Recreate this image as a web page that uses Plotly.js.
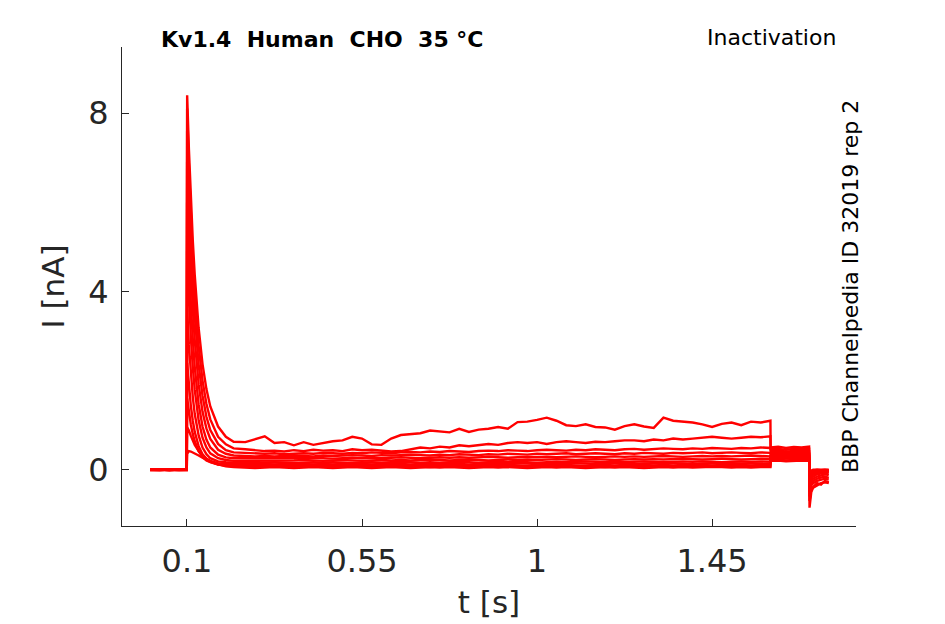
<!DOCTYPE html>
<html>
<head>
<meta charset="utf-8">
<script src="https://cdn.plot.ly/plotly-3.0.1.min.js"></script>
<style>html,body{margin:0;padding:0;background:#fff;}#chart{width:945px;height:624px;}</style>
</head>
<body>
<div id="chart"></div>
<script>
// time [s]
const t = [0.005, 0.03, 0.055, 0.08, 0.0995,
  0.1005, 0.105, 0.11, 0.115, 0.12, 0.13, 0.14, 0.15, 0.16, 0.18, 0.2, 0.22,
  0.25, 0.275, 0.3, 0.325, 0.35, 0.375, 0.4, 0.425, 0.45, 0.475,
  0.5, 0.525, 0.55, 0.575, 0.6, 0.625, 0.65, 0.675, 0.7, 0.725,
  0.75, 0.775, 0.8, 0.825, 0.85, 0.875, 0.9, 0.925, 0.95, 0.975,
  1.0, 1.025, 1.05, 1.075, 1.1, 1.125, 1.15, 1.175, 1.2, 1.225,
  1.25, 1.275, 1.3, 1.325, 1.35, 1.375, 1.4, 1.425, 1.45, 1.475,
  1.5, 1.525, 1.55, 1.575, 1.6,
  1.6005, 1.62, 1.64, 1.66, 1.68, 1.6995,
  1.7005, 1.705, 1.71, 1.72, 1.73, 1.74, 1.75];

// currents [nA]
const sweep1 = [0, 0.01, -0.01, 0.01, 0,
  8.4, 7.19, 6.07, 5.14, 4.37, 3.18, 2.37, 1.81, 1.42, 0.97, 0.74, 0.63,
  0.62, 0.68, 0.75, 0.6, 0.62, 0.55, 0.62, 0.56, 0.6, 0.64,
  0.66, 0.74, 0.7, 0.57, 0.56, 0.7, 0.78, 0.8, 0.82, 0.88,
  0.86, 0.84, 0.92, 0.85, 0.9, 0.92, 0.96, 0.92, 1.07, 1.08,
  1.12, 1.17, 1.1, 1.0, 0.98, 1.02, 0.96, 0.95, 0.9, 0.98,
  1.02, 0.97, 0.94, 1.17, 1.1, 1.08, 1.06, 1.02, 0.96, 1.03,
  1.06, 1.0, 1.08, 1.06, 1.1,
  0.5, 0.52, 0.49, 0.51, 0.5, 0.52,
  -0.85, -0.5, -0.4, -0.35, -0.3, -0.28, -0.3];
const sweep2 = [0, -0.01, 0.01, 0, 0.01,
  8.1, 6.83, 5.67, 4.72, 3.94, 2.78, 2.0, 1.48, 1.13, 0.74, 0.57, 0.48,
  0.46, 0.44, 0.42, 0.43, 0.41, 0.44, 0.42, 0.45, 0.43, 0.44,
  0.42, 0.46, 0.44, 0.45, 0.43, 0.41, 0.42, 0.46, 0.5, 0.48,
  0.52, 0.5, 0.55, 0.53, 0.56, 0.58, 0.56, 0.6, 0.62, 0.6,
  0.62, 0.58, 0.62, 0.64, 0.62, 0.6, 0.63, 0.62, 0.64, 0.66,
  0.66, 0.64, 0.68, 0.66, 0.7, 0.68, 0.7, 0.72, 0.74, 0.72,
  0.7, 0.72, 0.74, 0.73, 0.75,
  0.46, 0.47, 0.45, 0.47, 0.46, 0.47,
  -0.7, -0.45, -0.38, -0.3, -0.33, -0.25, -0.28];
const sweep3 = [0, 0, -0.01, 0.01, 0,
  7.6, 6.31, 5.15, 4.21, 3.46, 2.36, 1.66, 1.19, 0.89, 0.58, 0.44, 0.39,
  0.38, 0.37, 0.36, 0.37, 0.35, 0.36, 0.37, 0.36, 0.38, 0.37,
  0.36, 0.38, 0.37, 0.39, 0.38, 0.37, 0.39, 0.4, 0.39, 0.41,
  0.4, 0.42, 0.41, 0.4, 0.42, 0.43, 0.42, 0.44, 0.43, 0.42,
  0.44, 0.45, 0.44, 0.43, 0.45, 0.44, 0.46, 0.45, 0.44, 0.46,
  0.47, 0.45, 0.46, 0.48, 0.47, 0.46, 0.48, 0.47, 0.49, 0.48,
  0.47, 0.49, 0.48, 0.5, 0.49,
  0.42, 0.43, 0.41, 0.42, 0.43, 0.42,
  -0.6, -0.35, -0.3, -0.25, -0.22, -0.2, -0.22];
const sweep4 = [0.01, 0, 0, -0.01, 0,
  6.9, 5.63, 4.5, 3.61, 2.91, 1.92, 1.3, 0.93, 0.69, 0.45, 0.36, 0.32,
  0.31, 0.3, 0.31, 0.3, 0.31, 0.32, 0.31, 0.3, 0.32, 0.31,
  0.32, 0.33, 0.32, 0.31, 0.33, 0.32, 0.33, 0.34, 0.33, 0.32,
  0.34, 0.33, 0.35, 0.34, 0.33, 0.35, 0.34, 0.36, 0.35, 0.34,
  0.36, 0.35, 0.36, 0.37, 0.35, 0.36, 0.37, 0.36, 0.35, 0.37,
  0.36, 0.38, 0.37, 0.36, 0.38, 0.37, 0.38, 0.39, 0.37, 0.38,
  0.39, 0.38, 0.37, 0.39, 0.38,
  0.38, 0.39, 0.37, 0.38, 0.39, 0.38,
  -0.5, -0.3, -0.25, -0.2, -0.18, -0.15, -0.18];
const sweep5 = [0, 0.01, 0, 0, -0.01,
  6.0, 4.79, 3.74, 2.93, 2.31, 1.47, 0.97, 0.68, 0.5, 0.34, 0.28, 0.26,
  0.26, 0.25, 0.26, 0.25, 0.26, 0.25, 0.26, 0.27, 0.26, 0.25,
  0.26, 0.27, 0.26, 0.27, 0.26, 0.27, 0.28, 0.27, 0.26, 0.27,
  0.28, 0.27, 0.28, 0.27, 0.28, 0.29, 0.28, 0.27, 0.28, 0.29,
  0.28, 0.29, 0.28, 0.29, 0.3, 0.29, 0.28, 0.29, 0.3, 0.29,
  0.3, 0.29, 0.3, 0.31, 0.3, 0.29, 0.3, 0.31, 0.3, 0.31,
  0.3, 0.31, 0.32, 0.31, 0.3,
  0.35, 0.36, 0.34, 0.35, 0.36, 0.35,
  -0.4, -0.25, -0.2, -0.15, -0.12, -0.1, -0.12];
const sweep6 = [0, 0, 0.01, 0, 0,
  4.9, 3.86, 2.97, 2.3, 1.79, 1.11, 0.72, 0.5, 0.37, 0.26, 0.22, 0.2,
  0.2, 0.21, 0.2, 0.21, 0.2, 0.21, 0.22, 0.21, 0.2, 0.21,
  0.22, 0.21, 0.2, 0.21, 0.22, 0.21, 0.22, 0.21, 0.22, 0.23,
  0.22, 0.21, 0.22, 0.23, 0.22, 0.21, 0.22, 0.23, 0.22, 0.23,
  0.22, 0.23, 0.24, 0.23, 0.22, 0.23, 0.24, 0.23, 0.22, 0.23,
  0.24, 0.23, 0.24, 0.23, 0.24, 0.25, 0.24, 0.23, 0.24, 0.25,
  0.24, 0.23, 0.24, 0.25, 0.24,
  0.32, 0.33, 0.31, 0.32, 0.33, 0.32,
  -0.35, -0.2, -0.15, -0.1, -0.08, -0.06, -0.08];
const sweep7 = [-0.01, 0, 0, 0.01, 0,
  3.6, 2.8, 2.13, 1.63, 1.25, 0.77, 0.5, 0.35, 0.26, 0.19, 0.17, 0.16,
  0.16, 0.15, 0.16, 0.17, 0.16, 0.15, 0.16, 0.17, 0.16, 0.17,
  0.16, 0.15, 0.16, 0.17, 0.16, 0.17, 0.18, 0.17, 0.16, 0.17,
  0.16, 0.17, 0.18, 0.17, 0.16, 0.17, 0.18, 0.17, 0.18, 0.17,
  0.16, 0.17, 0.18, 0.17, 0.18, 0.19, 0.18, 0.17, 0.18, 0.17,
  0.18, 0.19, 0.18, 0.17, 0.18, 0.19, 0.18, 0.19, 0.18, 0.17,
  0.18, 0.19, 0.18, 0.19, 0.18,
  0.3, 0.29, 0.31, 0.3, 0.29, 0.3,
  -0.3, -0.15, -0.1, -0.08, -0.06, -0.04, -0.05];
const sweep8 = [0, 0, 0, -0.01, 0,
  2.4, 1.87, 1.43, 1.1, 0.85, 0.53, 0.35, 0.25, 0.2, 0.15, 0.14, 0.13,
  0.13, 0.12, 0.13, 0.12, 0.13, 0.14, 0.13, 0.12, 0.13, 0.12,
  0.13, 0.14, 0.13, 0.12, 0.13, 0.14, 0.13, 0.12, 0.13, 0.14,
  0.13, 0.14, 0.13, 0.12, 0.13, 0.14, 0.13, 0.14, 0.15, 0.14,
  0.13, 0.14, 0.13, 0.14, 0.15, 0.14, 0.13, 0.14, 0.15, 0.14,
  0.13, 0.14, 0.15, 0.14, 0.15, 0.14, 0.13, 0.14, 0.15, 0.14,
  0.15, 0.14, 0.15, 0.14, 0.15,
  0.27, 0.28, 0.26, 0.27, 0.28, 0.27,
  -0.25, -0.1, -0.07, -0.05, -0.03, -0.02, -0.03];
const sweep9 = [0, 0.01, 0, 0, 0,
  1.6, 1.28, 1.01, 0.8, 0.64, 0.42, 0.29, 0.21, 0.17, 0.12, 0.11, 0.1,
  0.1, 0.09, 0.1, 0.11, 0.1, 0.09, 0.1, 0.11, 0.1, 0.09,
  0.1, 0.1, 0.11, 0.1, 0.09, 0.1, 0.11, 0.1, 0.09, 0.1,
  0.11, 0.1, 0.1, 0.09, 0.1, 0.11, 0.1, 0.11, 0.1, 0.09,
  0.1, 0.11, 0.1, 0.11, 0.1, 0.09, 0.1, 0.11, 0.1, 0.11,
  0.12, 0.11, 0.1, 0.11, 0.1, 0.11, 0.12, 0.11, 0.1, 0.11,
  0.12, 0.11, 0.1, 0.11, 0.12,
  0.25, 0.24, 0.26, 0.25, 0.24, 0.25,
  -0.2, -0.06, -0.04, -0.02, -0.02, -0.01, -0.02];
const sweep10 = [0, 0, -0.01, 0, 0,
  0.95, 0.88, 0.76, 0.65, 0.56, 0.42, 0.32, 0.24, 0.19, 0.12, 0.09, 0.08,
  0.07, 0.06, 0.07, 0.08, 0.07, 0.06, 0.07, 0.08, 0.07, 0.06,
  0.07, 0.08, 0.07, 0.06, 0.07, 0.08, 0.07, 0.08, 0.07, 0.06,
  0.07, 0.08, 0.07, 0.06, 0.07, 0.08, 0.07, 0.08, 0.07, 0.06,
  0.07, 0.08, 0.07, 0.08, 0.07, 0.08, 0.07, 0.06, 0.07, 0.08,
  0.07, 0.08, 0.09, 0.08, 0.07, 0.08, 0.07, 0.08, 0.09, 0.08,
  0.07, 0.08, 0.09, 0.08, 0.08,
  0.22, 0.23, 0.21, 0.22, 0.23, 0.22,
  -0.15, -0.03, -0.02, 0, -0.01, 0, -0.01];
const sweep11 = [0, 0, 0, 0, 0,
  0.36, 0.42, 0.41, 0.39, 0.37, 0.32, 0.27, 0.22, 0.18, 0.12, 0.08, 0.06,
  0.05, 0.04, 0.05, 0.06, 0.05, 0.04, 0.05, 0.06, 0.05, 0.04,
  0.05, 0.06, 0.05, 0.04, 0.05, 0.06, 0.05, 0.04, 0.05, 0.06,
  0.05, 0.06, 0.05, 0.04, 0.05, 0.06, 0.05, 0.06, 0.05, 0.04,
  0.05, 0.06, 0.05, 0.06, 0.05, 0.04, 0.05, 0.06, 0.05, 0.06,
  0.05, 0.04, 0.05, 0.06, 0.05, 0.06, 0.05, 0.06, 0.07, 0.06,
  0.05, 0.06, 0.05, 0.06, 0.06,
  0.2, 0.21, 0.19, 0.2, 0.21, 0.2,
  -0.1, -0.02, 0, 0, 0, 0, 0];

const sweeps = [sweep1, sweep2, sweep3, sweep4, sweep5, sweep6, sweep7, sweep8, sweep9, sweep10, sweep11];

const xTickVals = [0.1, 0.55, 1, 1.45];
const xTickText = ['0.1', '0.55', '1', '1.45'];
const yTickVals = [0, 4, 8];
const yTickText = ['0', '4', '8'];

const traces = sweeps.map(function (s) {
  return {x: t, y: s, type: 'scatter', mode: 'lines',
          line: {color: '#ff0000', width: 2.4}, hoverinfo: 'skip', showlegend: false};
});

const FONT = 'DejaVu Sans, sans-serif';
const layout = {
  width: 945, height: 624,
  margin: {l: 122, r: 89, t: 47, b: 98},
  paper_bgcolor: '#ffffff', plot_bgcolor: '#ffffff',
  font: {family: FONT, color: '#262626'},
  showlegend: false,
  xaxis: {
    range: [-0.067, 1.82], showgrid: false, zeroline: false,
    showline: true, linecolor: '#262626', linewidth: 1,
    ticks: 'inside', ticklen: 7, tickcolor: '#262626', tickwidth: 1,
    tickvals: xTickVals, ticktext: xTickText,
    tickfont: {family: FONT, size: 32, color: '#262626'},
    ticklabelstandoff: 7,
    title: {text: 't [s]', font: {family: FONT, size: 31, color: '#262626'}, standoff: 11}
  },
  yaxis: {
    range: [-1.26, 9.48], showgrid: false, zeroline: false,
    showline: true, linecolor: '#262626', linewidth: 1,
    ticks: 'inside', ticklen: 7, tickcolor: '#262626', tickwidth: 1,
    tickvals: yTickVals, ticktext: yTickText,
    tickfont: {family: FONT, size: 32, color: '#262626'},
    ticklabelstandoff: 6,
    title: {text: 'I [nA]', font: {family: FONT, size: 31, color: '#262626'}, standoff: 14}
  },
  annotations: [
    {text: '<b>Kv1.4  Human  CHO  35 °C</b>', xref: 'paper', yref: 'paper',
     x: 0.2725, y: 1.0167, xanchor: 'center', yanchor: 'middle', showarrow: false,
     font: {family: FONT, size: 22, color: '#000000'}},
    {text: 'Inactivation', xref: 'paper', yref: 'paper',
     x: 0.9755, y: 1.0188, xanchor: 'right', yanchor: 'middle', showarrow: false,
     font: {family: FONT, size: 22, color: '#000000'}},
    {text: 'BBP Channelpedia ID 32019 rep 2', xref: 'paper', yref: 'paper',
     x: 0.9918, y: 0.501, xanchor: 'center', yanchor: 'middle', showarrow: false,
     textangle: -90, font: {family: FONT, size: 22, color: '#000000'}}
  ]
};

Plotly.newPlot('chart', traces, layout, {staticPlot: true, displayModeBar: false});
</script>
</body>
</html>
